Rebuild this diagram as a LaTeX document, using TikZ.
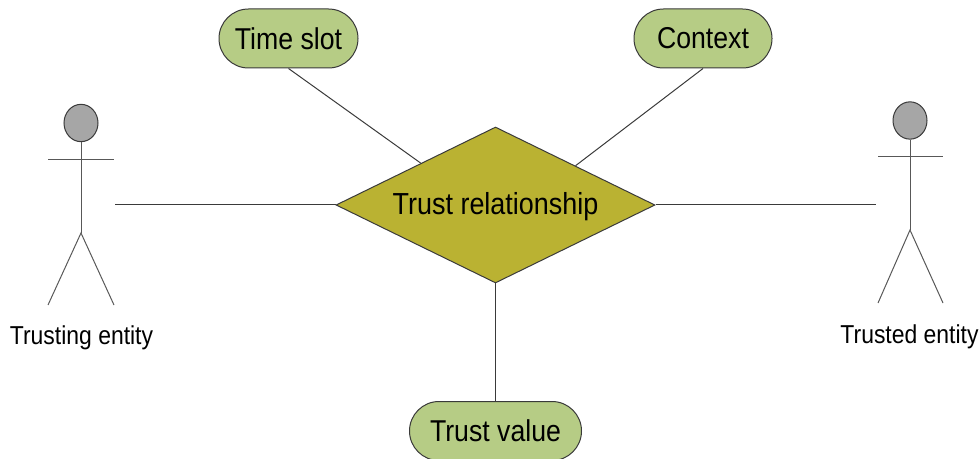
\documentclass[tikz,border=0pt]{standalone}
\usepackage{fontspec}
\setmainfont{Liberation Sans}
\usetikzlibrary{shapes.geometric,shapes.misc,calc}
\definecolor{pill}{HTML}{B6CC85}
\definecolor{gold}{HTML}{BAB232}
\definecolor{headgrey}{HTML}{A6A6A6}
\definecolor{ink}{HTML}{3A3A3A}
\newcommand{\tallertext}[1]{\scalebox{1}[1.13]{#1}}
\tikzset{
  link/.style={draw=ink,line width=0.75pt},
  limb/.style={draw=ink!85,line width=0.75pt},
  pillbox/.style={rounded rectangle,draw=ink,fill=pill,line width=0.75pt,inner sep=0pt,
    minimum height=44.25pt,font=\fontsize{20}{24}\selectfont},
  relation/.style={diamond,aspect=2.045,draw=ink,fill=gold,line width=0.75pt,inner sep=0pt,
    minimum width=239.25pt,minimum height=117pt,font=\fontsize{20.2}{24}\selectfont},
  head/.style={ellipse,draw=ink,fill=headgrey,line width=0.75pt,inner sep=0pt,
    minimum width=25.5pt,minimum height=28pt},
  caption/.style={inner sep=0pt,font=\fontsize{17.2}{21}\selectfont}
}
\begin{document}
\begin{tikzpicture}[x=0.75pt,y=-0.75pt]
\useasboundingbox (0,0) rectangle (980,459);
\clip (0,0) rectangle (980,459);
\node[relation] (tr) at (495.5,205) {\raisebox{-1.5pt}[16pt][5pt]{\tallertext{Trust relationship}}};
\node[pillbox,minimum width=104.25pt] (ts) at (288.5,38.5) {\tallertext{Time slot}};
\node[pillbox,minimum width=103.5pt] (cx) at (703,38.5) {\tallertext{Context}};
\node[pillbox,minimum width=129pt] (tv) at (495.5,431) {\tallertext{Trust value}};
% left actor
\node[head] (hl) at (81,123) {};
\coordinate (hipl) at (81,233);
\coordinate (al) at (48,160);
\coordinate (ar) at (114,160);
\coordinate (ll) at (48,305);
\coordinate (lr) at (114,305);
\draw[limb] (hl.south) -- (hipl);
\draw[limb] (al) -- (ar);
\draw[limb] (ll) -- (hipl) -- (lr);
\node[caption] (tl) at (81.5,337.5) {\tallertext{Trusting entity}};
\coordinate (el) at (115,205);
% right actor
\node[head] (hr) at (910,120.5) {};
\coordinate (hipr) at (910,230);
\coordinate (bl) at (878,157);
\coordinate (br) at (943,157);
\coordinate (ml) at (878,303);
\coordinate (mr) at (943,303);
\draw[limb] (hr.south) -- (hipr);
\draw[limb] (bl) -- (br);
\draw[limb] (ml) -- (hipr) -- (mr);
\node[caption] (tt) at (909.5,337) {\tallertext{Trusted entity}};
\coordinate (er) at (876,205);
% connectors
\draw[link] (el) -- (tr.west);
\draw[link] (tr.east) -- (er);
\draw[link] (tr.south) -- (tv.north);
\draw[link] (ts.south) -- ($(tr.west)!0.533!(tr.north)$);
\draw[link] (cx.south) -- ($(tr.east)!0.5!(tr.north)$);
\end{tikzpicture}
\end{document}
